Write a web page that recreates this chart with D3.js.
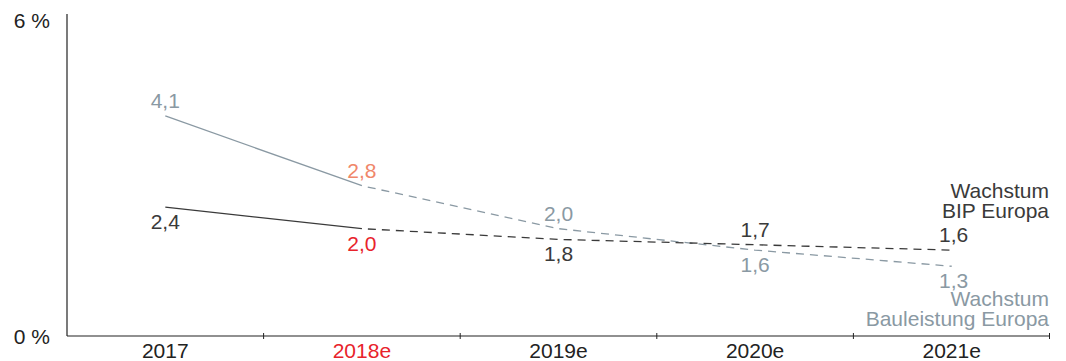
<!DOCTYPE html>
<html><head><meta charset="utf-8">
<script src="https://cdn.jsdelivr.net/npm/d3@7"></script>
<style>body{margin:0;background:#fff}svg{display:block;font-family:"Liberation Sans",Arial,Helvetica,sans-serif}</style>
</head><body><svg id="c" width="1066" height="361"></svg>
<script>
const years = ["2017","2018e","2019e","2020e","2021e"];
const yearColors = ["#222","#e8232b","#222","#222","#222"];
const bip = [2.4, 2.0, 1.8, 1.7, 1.6];
const bau = [4.1, 2.8, 2.0, 1.6, 1.3];
const bipLabelPos = ["below","below","below","above","above"];
const bauLabelPos = ["above","above","above","below","below"];
const bipLabelColors = ["#3a3a3a","#e8232b","#3a3a3a","#3a3a3a","#3a3a3a"];
const bauLabelColors = ["#8a99a3","#f0876a","#8a99a3","#8a99a3","#8a99a3"];
const yTicks = [0, 6];
const bipName = ["Wachstum","BIP Europa"];
const bauName = ["Wachstum","Bauleistung Europa"];

const svg = d3.select("#c");
const FS = 21;
const x = d3.scaleBand().domain(years).range([67,1050]);
const y = d3.scaleLinear().domain([0,6]).range([336,14]);
const cx = d => x(d) + x.bandwidth()/2;
const dark = "#3a3a3a", gray = "#8a99a3";

// axes
svg.append("line").attr("x1",67).attr("x2",67).attr("y1",y(6)).attr("y2",y(0)).attr("stroke","#222").attr("stroke-width",1.2);
svg.append("line").attr("x1",67).attr("x2",1050).attr("y1",y(0)).attr("y2",y(0)).attr("stroke","#222").attr("stroke-width",1.2);
const tickXs = years.slice(1).map(d=>x(d)).concat([1049.5]);
svg.selectAll(".tk").data(tickXs).enter().append("line")
  .attr("x1",d=>d).attr("x2",d=>d).attr("y1",y(0)-3).attr("y2",y(0)+3).attr("stroke","#222").attr("stroke-width",1);
svg.selectAll(".yl").data(yTicks).enter().append("text")
  .attr("x",50).attr("y",d=>y(d)+ (d===0?8:14)).attr("text-anchor","end")
  .attr("font-size",FS).attr("fill","#222").text(d=>d+" %");
svg.selectAll(".xl").data(years).enter().append("text")
  .attr("x",d=>cx(d)).attr("y",358).attr("text-anchor","middle")
  .attr("font-size",FS).attr("fill",(d,i)=>yearColors[i]).text(d=>d);

function drawSeries(vals, color, labelPos, labelColors){
  const pts = years.map((d,i)=>[cx(d), y(vals[i])]);
  const line = d3.line();
  svg.append("path").attr("d",line(pts.slice(0,2))).attr("fill","none").attr("stroke",color).attr("stroke-width",1.3);
  svg.append("path").attr("d",line(pts.slice(1))).attr("fill","none").attr("stroke",color).attr("stroke-width",1.3).attr("stroke-dasharray","8,6").attr("stroke-dashoffset",-6);
  svg.selectAll(null).data(vals).enter().append("text")
    .attr("x",(d,i)=>pts[i][0] + (i===4?2:0))
    .attr("y",(d,i)=>labelPos[i]==="above" ? pts[i][1]-8 : pts[i][1]+22)
    .attr("text-anchor","middle").attr("font-size",FS)
    .attr("fill",(d,i)=>labelColors[i])
    .text(d=>d3.format(".1f")(d).replace(".",","));
}
drawSeries(bau, gray, bauLabelPos, bauLabelColors);
drawSeries(bip, dark, bipLabelPos, bipLabelColors);

svg.selectAll(".bn").data(bipName).enter().append("text")
  .attr("x",1049).attr("y",(d,i)=>198+i*20).attr("text-anchor","end")
  .attr("font-size",FS).attr("fill",dark).text(d=>d);
svg.selectAll(".bn2").data(bauName).enter().append("text")
  .attr("x",1049).attr("y",(d,i)=>306+i*20).attr("text-anchor","end")
  .attr("font-size",FS).attr("fill",gray).text(d=>d);
</script></body></html>
